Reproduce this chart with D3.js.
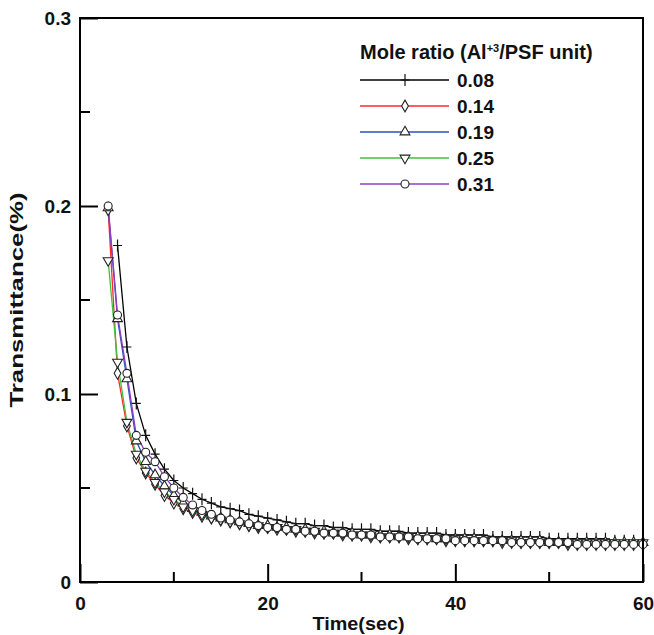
<!DOCTYPE html>
<html>
<head>
<meta charset="utf-8">
<script src="https://cdn.jsdelivr.net/npm/d3@7"></script>
<style>
  body { margin: 0; background: #fff; }
  text { font-family: "Liberation Sans", Arial, sans-serif; font-weight: bold; }
</style>
</head>
<body>
<script>
  // series values, one reading per second
  var seriesNames = ['0.08', '0.14', '0.19', '0.25', '0.31'];
  var seriesColors = ['#000000', '#ff2a2a', '#2f4fbf', '#3cc23c', '#8e3fc0'];
  var seriesSymbols = ['plus', 'diamond', 'triangle', 'triangleDown', 'circle'];
  var startTimes = [4, 3, 3, 3, 3];

  var s008 = [0.179, 0.125, 0.095, 0.078, 0.068, 0.060, 0.054, 0.050, 0.047, 0.044,
    0.042, 0.040, 0.039, 0.038, 0.036, 0.035, 0.034, 0.033, 0.032, 0.031,
    0.031, 0.030, 0.030, 0.029, 0.029, 0.028, 0.028, 0.028, 0.027, 0.027,
    0.027, 0.026, 0.026, 0.026, 0.026, 0.025, 0.025, 0.025, 0.025, 0.025,
    0.024, 0.024, 0.024, 0.024, 0.024, 0.024, 0.023, 0.023, 0.023, 0.023,
    0.023, 0.023, 0.023, 0.022, 0.022, 0.022, 0.022];
  var s014 = [0.198, 0.111, 0.083, 0.066, 0.058, 0.052, 0.046, 0.042, 0.039, 0.037,
    0.035, 0.034, 0.033, 0.032, 0.031, 0.030, 0.029, 0.029, 0.028, 0.028,
    0.027, 0.027, 0.026, 0.026, 0.026, 0.025, 0.025, 0.025, 0.024, 0.024,
    0.024, 0.024, 0.023, 0.023, 0.023, 0.023, 0.022, 0.022, 0.022, 0.022,
    0.022, 0.022, 0.021, 0.021, 0.021, 0.021, 0.021, 0.021, 0.021, 0.020,
    0.020, 0.020, 0.020, 0.020, 0.020, 0.020, 0.020, 0.020];
  var s019 = [0.199, 0.140, 0.108, 0.075, 0.064, 0.057, 0.051, 0.046, 0.042, 0.039,
    0.037, 0.035, 0.034, 0.033, 0.032, 0.031, 0.030, 0.030, 0.029, 0.029,
    0.028, 0.028, 0.027, 0.027, 0.026, 0.026, 0.026, 0.025, 0.025, 0.025,
    0.025, 0.024, 0.024, 0.024, 0.024, 0.023, 0.023, 0.023, 0.023, 0.023,
    0.022, 0.022, 0.022, 0.022, 0.022, 0.022, 0.022, 0.021, 0.021, 0.021,
    0.021, 0.021, 0.021, 0.021, 0.021, 0.021, 0.021, 0.021];
  var s025 = [0.171, 0.117, 0.085, 0.068, 0.059, 0.053, 0.048, 0.044, 0.040, 0.038,
    0.036, 0.034, 0.033, 0.032, 0.031, 0.030, 0.030, 0.029, 0.029, 0.028,
    0.028, 0.027, 0.027, 0.026, 0.026, 0.026, 0.025, 0.025, 0.025, 0.024,
    0.024, 0.024, 0.024, 0.023, 0.023, 0.023, 0.023, 0.023, 0.022, 0.022,
    0.022, 0.022, 0.022, 0.022, 0.021, 0.021, 0.021, 0.021, 0.021, 0.021,
    0.021, 0.021, 0.021, 0.021, 0.021, 0.021, 0.021, 0.021];
  var s031 = [0.200, 0.142, 0.111, 0.078, 0.069, 0.064, 0.056, 0.050, 0.045, 0.041,
    0.038, 0.036, 0.034, 0.033, 0.032, 0.031, 0.030, 0.029, 0.029, 0.028,
    0.028, 0.027, 0.027, 0.026, 0.026, 0.026, 0.025, 0.025, 0.025, 0.024,
    0.024, 0.024, 0.024, 0.023, 0.023, 0.023, 0.023, 0.022, 0.022, 0.022,
    0.022, 0.022, 0.022, 0.021, 0.021, 0.021, 0.021, 0.021, 0.021, 0.021,
    0.020, 0.020, 0.020, 0.020, 0.020, 0.020, 0.020, 0.020];
  var seriesValues = [s008, s014, s019, s025, s031];

  var xTicks = [0, 20, 40, 60];
  var xMinor = [10, 30, 50];
  var yTicks = [0, 0.1, 0.2, 0.3];
  var yMinor = [0.05, 0.15, 0.25];

  var margin = {top: 18, right: 11, bottom: 53, left: 80},
      width = 654 - margin.left - margin.right,
      height = 635 - margin.top - margin.bottom;

  var xScale = d3.scaleLinear().domain([0, 60]).range([0, width]);
  var yScale = d3.scaleLinear().domain([0, 0.3]).range([height, 0]);

  var svg = d3.select("body").append("svg")
      .attr("width", 654)
      .attr("height", 635);

  var g = svg.append("g")
      .attr("transform", "translate(" + margin.left + "," + margin.top + ")");

  var symbolMap = {
    diamond: d3.symbolDiamond, triangle: d3.symbolTriangle,
    triangleDown: d3.symbolTriangle, circle: d3.symbolCircle
  };

  function drawMarker(sel, type) {
    if (type === 'plus') {
      sel.append("path")
        .attr("d", "M-4.5,0H4.5M0,-6V6")
        .attr("stroke", "#111").attr("stroke-width", 1.2).attr("fill", "none");
    } else {
      var size = type === 'circle' ? 50 : (type === 'diamond' ? 40 : 42);
      sel.append("path")
        .attr("d", d3.symbol().type(symbolMap[type]).size(size))
        .attr("transform", type === 'triangleDown' ? "rotate(180)" : null)
        .attr("stroke", "#222").attr("stroke-width", 1.1).attr("fill", "#fff");
    }
  }

  // series lines and markers
  seriesValues.forEach(function(vals, i) {
    var pts = vals.map(function(v, k) { return [startTimes[i] + k, v]; });
    var line = d3.line()
      .x(function(d) { return xScale(d[0]); })
      .y(function(d) { return yScale(d[1]); });
    g.append("path")
      .attr("d", line(pts))
      .attr("fill", "none")
      .attr("stroke", seriesColors[i])
      .attr("stroke-width", 1.3);
  });
  seriesValues.forEach(function(vals, i) {
    vals.forEach(function(v, k) {
      var m = g.append("g")
        .attr("transform", "translate(" + xScale(startTimes[i] + k) + "," + yScale(v) + ")");
      drawMarker(m, seriesSymbols[i]);
    });
  });

  // frame
  g.append("rect")
    .attr("width", width).attr("height", height)
    .attr("fill", "none").attr("stroke", "#000").attr("stroke-width", 2);

  // axis-x (ticks inward)
  var xAxis = g.append("g").attr("transform", "translate(0," + height + ")");
  xAxis.call(d3.axisBottom(xScale).tickValues(xTicks).tickSize(-18).tickFormat(d3.format("d")));
  xAxis.selectAll(".tick line").attr("stroke-width", 2);
  xAxis.selectAll(".tick text").attr("dy", null).attr("y", 28)
    .attr("font-size", 19).attr("fill", "#111");
  xAxis.select(".domain").remove();
  xMinor.forEach(function(t) {
    xAxis.append("line").attr("x1", xScale(t)).attr("x2", xScale(t))
      .attr("y1", 0).attr("y2", -10).attr("stroke", "#000").attr("stroke-width", 2);
  });

  // axis-y (ticks inward)
  var yAxis = g.append("g");
  yAxis.call(d3.axisLeft(yScale).tickValues(yTicks).tickSize(-18)
    .tickFormat(function(d) { return d === 0 ? "0" : d3.format(".1f")(d); }));
  yAxis.selectAll(".tick line").attr("stroke-width", 2);
  yAxis.selectAll(".tick text").attr("x", -9).attr("font-size", 19).attr("fill", "#111");
  yAxis.select(".domain").remove();
  yMinor.forEach(function(t) {
    yAxis.append("line").attr("y1", yScale(t)).attr("y2", yScale(t))
      .attr("x1", 0).attr("x2", 10).attr("stroke", "#000").attr("stroke-width", 2);
  });

  // axis titles
  svg.append("text")
    .attr("x", margin.left + width / 2 - 3).attr("y", 630)
    .attr("text-anchor", "middle").attr("font-size", 18).attr("fill", "#111")
    .attr("textLength", 92).attr("lengthAdjust", "spacingAndGlyphs")
    .text("Time(sec)");
  svg.append("text")
    .attr("transform", "translate(23," + (margin.top + height / 2) + ") rotate(-90)")
    .attr("text-anchor", "middle").attr("font-size", 18).attr("fill", "#111")
    .attr("textLength", 215).attr("lengthAdjust", "spacingAndGlyphs")
    .text("Transmittance(%)");

  // legend
  var legend = svg.append("g").attr("transform", "translate(360,0)");
  var title = legend.append("text").attr("x", 0).attr("y", 59)
    .attr("font-size", 20).attr("fill", "#111");
  title.append("tspan").text("Mole ratio (Al");
  title.append("tspan").attr("font-size", 11).attr("dy", -7).text("+3");
  title.append("tspan").attr("dy", 7).text("/PSF unit)");

  seriesNames.forEach(function(name, i) {
    var y = 80 + i * 26;
    legend.append("line").attr("x1", 0).attr("x2", 89).attr("y1", y).attr("y2", y)
      .attr("stroke", seriesColors[i]).attr("stroke-width", 1.5);
    var m = legend.append("g").attr("transform", "translate(45," + y + ")");
    drawMarker(m, seriesSymbols[i]);
    legend.append("text").attr("x", 97).attr("y", y + 7)
      .attr("font-size", 19).attr("fill", "#111").text(name);
  });
</script>
</body>
</html>
